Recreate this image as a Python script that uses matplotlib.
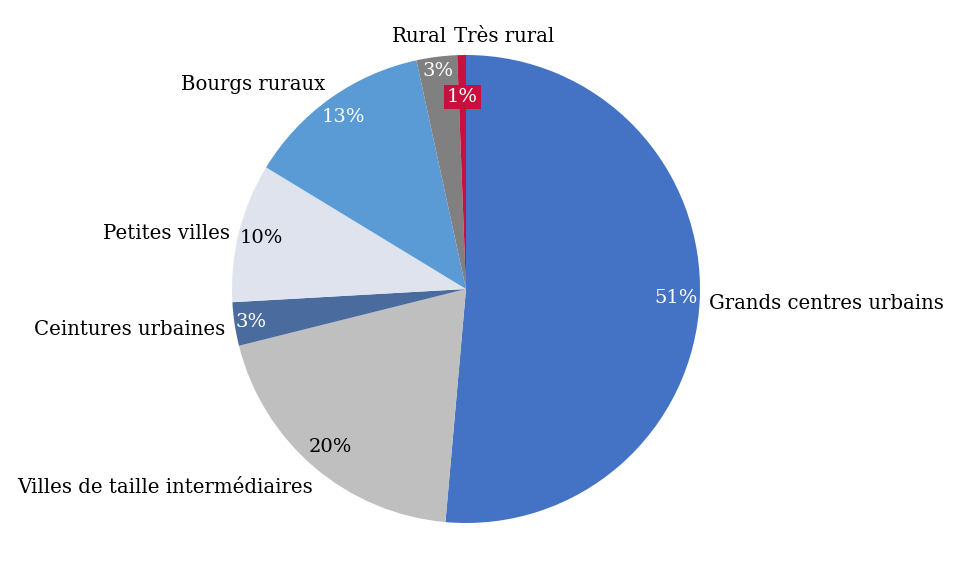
import numpy as np
import matplotlib.pyplot as plt

# parts of the total, clockwise from the top
categories = ["Grands centres urbains", "Villes de taille intermédiaires", "Ceintures urbaines",
              "Petites villes", "Bourgs ruraux", "Rural", "Très rural"]
values = [51.4, 19.7, 3.0, 9.6, 12.9, 2.8, 0.6]

colors = ["#4472C4", "#BFBFBF", "#4A6B9D", "#DEE3EE", "#5B9BD5", "#808080", "#C8103F"]
pct_colors = ["white", "black", "white", "black", "white", "white", "white"]
pct_r = [0.9, 0.89, 0.93, 0.9, 0.9, 0.94, 0.82]

plt.rcParams['font.family'] = ['DejaVu Serif']

fig = plt.figure(figsize=(9.59, 5.77), dpi=100)
ax = fig.add_axes([(466 - 234) / 959, 54 / 577, 468 / 959, 468 / 577])

wedges, _ = ax.pie(values, colors=colors, startangle=90, counterclock=False,
                   radius=1, wedgeprops=dict(linewidth=0))
ax.set_xlim(-1, 1)
ax.set_ylim(-1, 1)
ax.set_aspect('equal')
ax.axis('off')

for i, w in enumerate(wedges):
    mid = np.deg2rad((w.theta1 + w.theta2) / 2)
    x, y = np.cos(mid), np.sin(mid)
    pct = "%.0f%%" % values[i]
    kw = dict(ha='center', va='center', fontsize=14, color=pct_colors[i])
    if i == 6:
        kw['bbox'] = dict(boxstyle='square,pad=0.15', fc=colors[i], ec='none')
    ax.text(pct_r[i] * x, pct_r[i] * y, pct, **kw)

    lx, ly = 1.04 * x, 1.04 * y - 0.015
    ha = 'left' if x > 0 else 'right'
    va = 'center'
    if i == 1:
        lx += 0.02
        va = 'top'
    if i == 4:
        va = 'bottom'
    if i == 5:
        lx, ly = -0.08, 1.077
    if i == 6:
        lx, ly, ha = -0.05, 1.077, 'left'
    ax.text(lx, ly, categories[i], ha=ha, va=va, fontsize=14.2, color='black')

fig.savefig("out.png", dpi=100)
